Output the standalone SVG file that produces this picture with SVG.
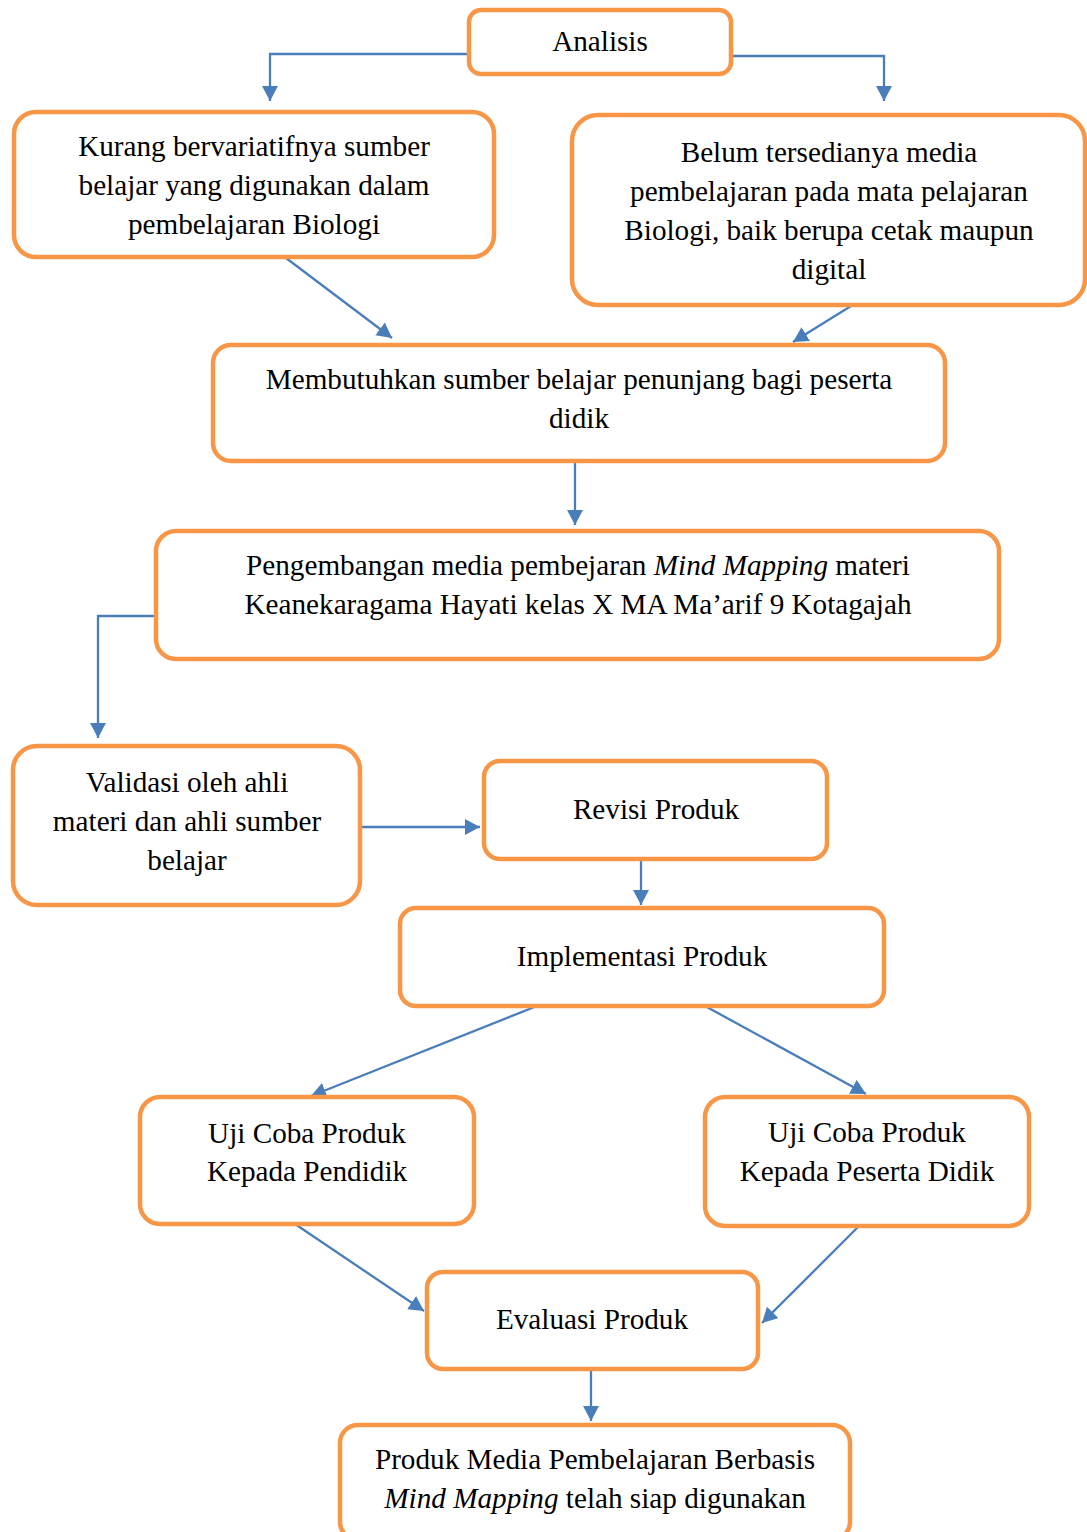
<svg xmlns="http://www.w3.org/2000/svg" width="1087" height="1532" viewBox="0 0 1087 1532">
<style>
.box{fill:#fff;stroke:#F79646;stroke-width:4.5}
.t{font-family:"Liberation Serif","Times New Roman",serif;font-size:29.2px;fill:#000;text-anchor:middle}
.c{fill:none;stroke:#4A7EBB;stroke-width:2.3}
</style>
<defs>
<marker id="ah" markerUnits="userSpaceOnUse" markerWidth="17" markerHeight="17" refX="15" refY="8" orient="auto">
<path d="M0,0 L15,8 L0,16 Z" fill="#4A7EBB"/>
</marker>
</defs>
<rect width="1087" height="1532" fill="#fff"/>
<g id="connectors">
<path class="c" d="M468,54 H270 V101" marker-end="url(#ah)"/>
<path class="c" d="M732,56 H884 V101" marker-end="url(#ah)"/>
<path class="c" d="M286,258 L392,338" marker-end="url(#ah)"/>
<path class="c" d="M851,306 L793,342" marker-end="url(#ah)"/>
<path class="c" d="M575,463 V525" marker-end="url(#ah)"/>
<path class="c" d="M157,616 H98 V738" marker-end="url(#ah)"/>
<path class="c" d="M362,827 H480" marker-end="url(#ah)"/>
<path class="c" d="M641,861 V905" marker-end="url(#ah)"/>
<path class="c" d="M537,1006 L311,1096" marker-end="url(#ah)"/>
<path class="c" d="M705,1006 L866,1094" marker-end="url(#ah)"/>
<path class="c" d="M295,1224 L424,1311" marker-end="url(#ah)"/>
<path class="c" d="M860,1225 L762,1323" marker-end="url(#ah)"/>
<path class="c" d="M591,1371 V1421" marker-end="url(#ah)"/>
</g>
<g id="n1"><rect class="box" x="469" y="10" width="262" height="64" rx="12"/><text class="t" x="600" y="51">Analisis</text></g>
<g id="n2"><rect class="box" x="14" y="112" width="480" height="145" rx="22"/>
<text class="t" x="254" y="156">Kurang bervariatifnya sumber</text>
<text class="t" x="254" y="195">belajar yang digunakan dalam</text>
<text class="t" x="254" y="234">pembelajaran Biologi</text></g>
<g id="n3"><rect class="box" x="572" y="115" width="513" height="190" rx="26"/>
<text class="t" x="829" y="162">Belum tersedianya media</text>
<text class="t" x="829" y="201">pembelajaran pada mata pelajaran</text>
<text class="t" x="829" y="240">Biologi, baik berupa cetak maupun</text>
<text class="t" x="829" y="279">digital</text></g>
<g id="n4"><rect class="box" x="213" y="345" width="732" height="116" rx="18"/>
<text class="t" x="579" y="389">Membutuhkan sumber belajar penunjang bagi peserta</text>
<text class="t" x="579" y="428">didik</text></g>
<g id="n5"><rect class="box" x="156" y="531" width="843" height="128" rx="20"/>
<text class="t" x="578" y="575">Pengembangan media pembejaran <tspan font-style="italic">Mind Mapping</tspan> materi</text>
<text class="t" x="578" y="614">Keanekaragama Hayati kelas X MA Ma’arif 9 Kotagajah</text></g>
<g id="n6"><rect class="box" x="13" y="746" width="347" height="159" rx="24"/>
<text class="t" x="187" y="792">Validasi oleh ahli</text>
<text class="t" x="187" y="831">materi dan ahli sumber</text>
<text class="t" x="187" y="870">belajar</text></g>
<g id="n7"><rect class="box" x="484" y="761" width="343" height="98" rx="16"/>
<text class="t" x="656" y="819">Revisi Produk</text></g>
<g id="n8"><rect class="box" x="400" y="908" width="484" height="98" rx="16"/>
<text class="t" x="642" y="966">Implementasi Produk</text></g>
<g id="n9"><rect class="box" x="140" y="1097" width="334" height="127" rx="20"/>
<text class="t" x="307" y="1143">Uji Coba Produk</text>
<text class="t" x="307" y="1181">Kepada Pendidik</text></g>
<g id="n10"><rect class="box" x="705" y="1097" width="324" height="129" rx="20"/>
<text class="t" x="867" y="1142">Uji Coba Produk</text>
<text class="t" x="867" y="1181">Kepada Peserta Didik</text></g>
<g id="n11"><rect class="box" x="427" y="1272" width="331" height="97" rx="16"/>
<text class="t" x="592" y="1329">Evaluasi Produk</text></g>
<g id="n12"><rect class="box" x="340" y="1425" width="510" height="115" rx="18"/>
<text class="t" x="595" y="1469">Produk Media Pembelajaran Berbasis</text>
<text class="t" x="595" y="1508"><tspan font-style="italic">Mind Mapping</tspan> telah siap digunakan</text></g>
</svg>
